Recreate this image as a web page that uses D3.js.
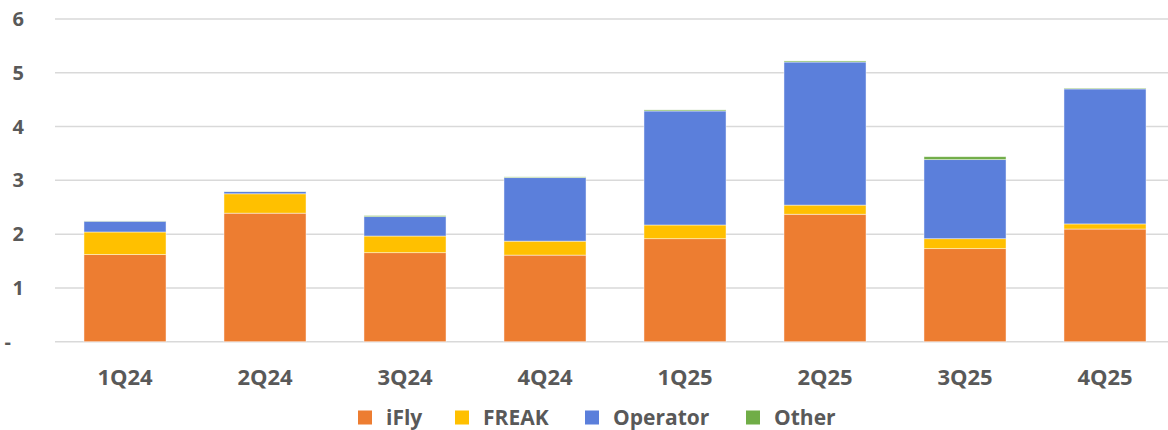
<!DOCTYPE html>
<html lang="en">
<head>
    <meta charset="UTF-8">
    <title>Revenue by segment</title>
    <script src="https://d3js.org/d3.v7.min.js"></script>
    <style>
        body { margin: 0; background: #fff; }
        svg text { font-family: "Open Sans", sans-serif; font-weight: 700; fill: #595959; }
    </style>
</head>
<body>
<svg id="viz" width="1168" height="430"></svg>

<script>
    var quarters = ['1Q24', '2Q24', '3Q24', '4Q24', '1Q25', '2Q25', '3Q25', '4Q25'];
    var iFly     = [1.62, 2.39, 1.655, 1.61, 1.915, 2.37, 1.73, 2.095];
    var freak    = [0.42, 0.36, 0.31, 0.26, 0.255, 0.17, 0.185, 0.095];
    var operator = [0.20, 0.04, 0.36, 1.18, 2.12, 2.66, 1.47, 2.51];
    var other    = [0.005, 0.005, 0.02, 0.015, 0.02, 0.02, 0.055, 0.015];
    var yTicks   = [0, 1, 2, 3, 4, 5, 6];

    var seriesNames = ['iFly', 'FREAK', 'Operator', 'Other'];
    var seriesColors = ['#ED7D31', '#FFC000', '#5B7FDB', '#70AD47'];

    var rows = quarters.map(function (q, i) {
        return { q: q, iFly: iFly[i], FREAK: freak[i], Operator: operator[i], Other: other[i] };
    });

    var svg = d3.select('#viz');
    var plotLeft = 55, plotRight = 1175, plotTop = 19, plotBottom = 341.7;

    var x = d3.scaleBand().domain(quarters).range([plotLeft, plotRight]).paddingInner(0.414).paddingOuter(0.207);
    var y = d3.scaleLinear().domain([0, 6]).range([plotBottom, plotTop]);
    var color = d3.scaleOrdinal().domain(seriesNames).range(seriesColors);

    // gridlines
    svg.append('g').selectAll('line')
        .data(yTicks)
        .enter().append('line')
        .attr('x1', plotLeft).attr('x2', 1168)
        .attr('y1', function (d) { return y(d); })
        .attr('y2', function (d) { return y(d); })
        .attr('stroke', '#d9d9d9')
        .attr('stroke-width', 1.5);

    // y labels
    svg.append('g').selectAll('text')
        .data(yTicks)
        .enter().append('text')
        .attr('x', function (d) { return d === 0 ? 11 : 24; })
        .attr('y', function (d) { return y(d) + 7; })
        .attr('text-anchor', 'end')
        .style('font-size', '20px')
        .text(function (d) { return d === 0 ? '-' : d; });

    // stacked bars
    var stack = d3.stack().keys(seriesNames)(rows);
    svg.append('g').selectAll('g')
        .data(stack)
        .enter().append('g')
        .attr('fill', function (d) { return color(d.key); })
        .selectAll('rect')
        .data(function (d) { return d; })
        .enter().append('rect')
        .attr('x', function (d) { return x(d.data.q); })
        .attr('width', x.bandwidth())
        .attr('y', function (d) { return y(d[1]); })
        .attr('height', function (d) { return y(d[0]) - y(d[1]); })
        .attr('stroke', '#fff')
        .attr('stroke-opacity', 0.6)
        .attr('stroke-width', 0.75);

    // category labels
    svg.append('g').selectAll('text')
        .data(quarters)
        .enter().append('text')
        .attr('x', function (d) { return x(d) + x.bandwidth() / 2; })
        .attr('y', 385)
        .attr('text-anchor', 'middle')
        .style('font-size', '22px')
        .text(function (d) { return d; });

    // legend
    var legendX = [358, 455, 585, 746];
    var legend = svg.append('g').selectAll('g')
        .data(seriesNames)
        .enter().append('g')
        .attr('transform', function (d, i) { return 'translate(' + legendX[i] + ',0)'; });
    legend.append('rect')
        .attr('y', 410.5).attr('width', 14).attr('height', 14)
        .attr('fill', function (d) { return color(d); });
    legend.append('text')
        .attr('x', 28).attr('y', 425)
        .style('font-size', '21px')
        .text(function (d) { return d; });
</script>
</body>
</html>
